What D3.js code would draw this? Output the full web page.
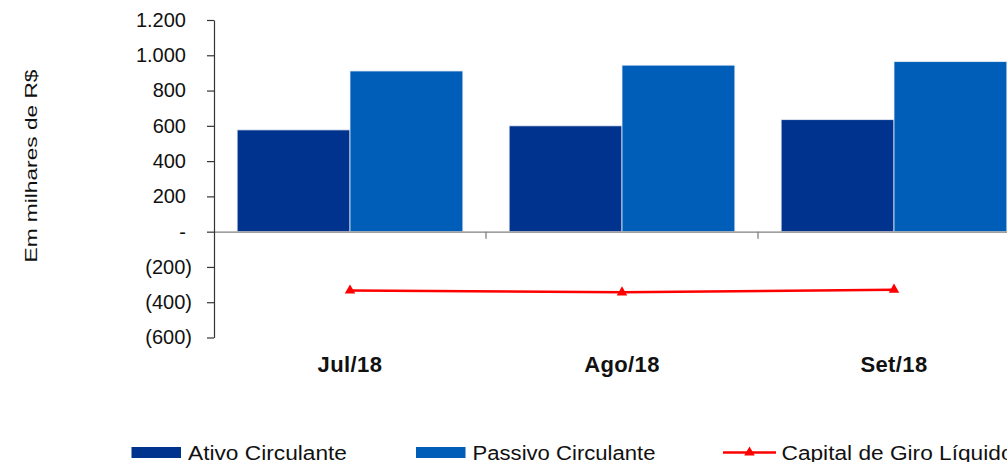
<!DOCTYPE html>
<html>
<head>
<meta charset="utf-8">
<script src="https://cdn.jsdelivr.net/npm/d3@7"></script>
<style>
  body { margin: 0; background: #fff; }
  text { font-family: "Liberation Sans", Arial, sans-serif; fill: #111; }
</style>
</head>
<body>
<div id="chart"></div>
<script>
// Dados (em milhares de R$)
const categorias = ["Jul/18", "Ago/18", "Set/18"];
const series = ["Ativo Circulante", "Passivo Circulante"];
const ativoCirculante = [577, 600, 635];
const passivoCirculante = [911, 944, 964];
const capitalGiro = [-334, -344, -329];
const yTicks = [-600, -400, -200, 0, 200, 400, 600, 800, 1000, 1200];

const cores = { "Ativo Circulante": "#00338d", "Passivo Circulante": "#005eb8", linha: "#ff0000" };

const width = 1007, height = 462;
const plot = { left: 214, top: 20, bottom: 337.5, band: 272 };

const svg = d3.select("#chart").append("svg")
    .attr("width", width)
    .attr("height", height);

// Escalas
const x = d3.scaleBand()
    .domain(categorias)
    .range([plot.left, plot.left + plot.band * categorias.length])
    .padding(0);

const xSerie = d3.scaleBand()
    .domain(series)
    .range([0, x.bandwidth()])
    .paddingInner(0)
    .paddingOuter(0.205);

const y = d3.scaleLinear()
    .domain([-600, 1200])
    .range([plot.bottom, plot.top]);

const fmt = v => {
    if (v === 0) return "-";
    const s = d3.format(",")(Math.abs(v)).replace(/,/g, ".");
    return v < 0 ? `(${s})` : s;
};

// Barras
const dados = categorias.map((c, i) => ({
    cat: c,
    valores: [
        { serie: series[0], v: ativoCirculante[i] },
        { serie: series[1], v: passivoCirculante[i] }
    ]
}));

svg.append("g")
    .selectAll("g")
    .data(dados)
    .join("g")
    .attr("transform", d => `translate(${x(d.cat)},0)`)
    .selectAll("rect")
    .data(d => d.valores)
    .join("rect")
    .attr("x", d => xSerie(d.serie))
    .attr("y", d => y(d.v))
    .attr("width", xSerie.bandwidth())
    .attr("height", d => y(0) - y(d.v))
    .attr("fill", d => cores[d.serie])
    .attr("stroke", "#e6ecf5")
    .attr("stroke-width", 0.8);

// Eixo X (linha no zero)
const xAxis = svg.append("g")
    .attr("transform", `translate(0,${y(0)})`)
    .call(d3.axisBottom(x).tickValues([]).tickSizeOuter(0));
xAxis.select(".domain").attr("stroke", "#808080").attr("stroke-width", 1.3);
xAxis.selectAll(".sep")
    .data(categorias.slice(1))
    .join("line")
    .attr("class", "sep")
    .attr("x1", d => x(d)).attr("x2", d => x(d))
    .attr("y1", 0).attr("y2", 7)
    .attr("stroke", "#808080")
    .attr("stroke-width", 1.3);

// Rótulos das categorias
svg.append("g")
    .selectAll("text")
    .data(categorias)
    .join("text")
    .attr("x", d => x(d) + x.bandwidth() / 2)
    .attr("y", 371.5)
    .attr("text-anchor", "middle")
    .attr("font-size", 22)
    .attr("font-weight", "bold")
    .attr("letter-spacing", 0.4)
    .text(d => d);

// Eixo Y
const yAxis = svg.append("g")
    .attr("transform", `translate(${plot.left},0)`)
    .call(d3.axisLeft(y).tickValues(yTicks).tickFormat(fmt).tickSize(7).tickSizeOuter(0).tickPadding(0));
yAxis.select(".domain").attr("stroke", "#333").attr("stroke-width", 1.2);
yAxis.selectAll(".tick line").attr("stroke", "#333").attr("stroke-width", 1.2);
yAxis.selectAll(".tick text")
    .attr("font-size", 20)
    .attr("font-family", "Liberation Sans, Arial, sans-serif")
    .attr("fill", "#111")
    .attr("x", d => d < 0 ? -22 : -28);

// Título do eixo Y
svg.append("text")
    .attr("transform", "translate(37,166) rotate(-90)")
    .attr("text-anchor", "middle")
    .attr("font-size", 17)
    .attr("textLength", 193)
    .attr("lengthAdjust", "spacingAndGlyphs")
    .text("Em milhares de R$");

// Linha Capital de Giro Líquido
const pontos = categorias.map((c, i) => ({ cat: c, v: capitalGiro[i] }));
const cx = d => x(d.cat) + x.bandwidth() / 2;

svg.append("path")
    .datum(pontos)
    .attr("fill", "none")
    .attr("stroke", cores.linha)
    .attr("stroke-width", 2.5)
    .attr("d", d3.line().x(cx).y(d => y(d.v)));

const tri = d3.symbol().type(d3.symbolTriangle).size(48);
svg.append("g")
    .selectAll("path")
    .data(pontos)
    .join("path")
    .attr("d", tri)
    .attr("transform", d => `translate(${cx(d)},${y(d.v)})`)
    .attr("fill", cores.linha);

// Legenda
const leg = svg.append("g");
const legItens = [
    { nome: series[0], x: 131.5, tipo: "rect", len: 159 },
    { nome: series[1], x: 416, tipo: "rect", len: 183 },
    { nome: "Capital de Giro Líquido", x: 723, tipo: "line", len: 232 }
];
const legY = 452.5;
legItens.forEach(item => {
    if (item.tipo === "rect") {
        leg.append("rect")
            .attr("x", item.x).attr("y", legY - 5.5)
            .attr("width", 49.5).attr("height", 11)
            .attr("fill", cores[item.nome]);
    } else {
        leg.append("line")
            .attr("x1", item.x).attr("x2", item.x + 53)
            .attr("y1", legY).attr("y2", legY)
            .attr("stroke", cores.linha).attr("stroke-width", 2.5);
        leg.append("path")
            .attr("d", tri)
            .attr("transform", `translate(${item.x + 26.5},${legY})`)
            .attr("fill", cores.linha);
    }
    leg.append("text")
        .attr("x", item.x + (item.tipo === "rect" ? 56.5 : 58.5))
        .attr("y", legY + 7)
        .attr("font-size", 20)
        .attr("textLength", item.len)
        .attr("lengthAdjust", "spacingAndGlyphs")
        .text(item.nome);
});
</script>
</body>
</html>
